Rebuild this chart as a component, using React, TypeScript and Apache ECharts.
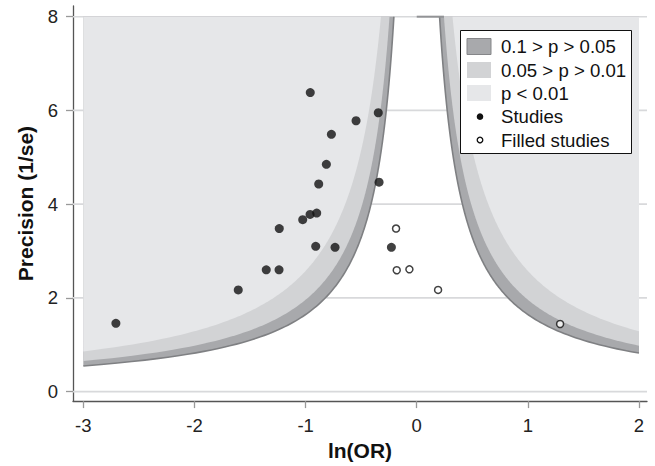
import React, { useEffect, useRef } from "react";
import * as echarts from "echarts";

// Observed studies (ln(OR), precision = 1/se)
const studyX = [-2.707, -1.606, -1.354, -1.239, -1.237, -1.026, -0.96, -0.9, -0.909, -0.735, -0.958, -0.768, -0.813, -0.882, -0.546, -0.346, -0.339, -0.228];
const studyY = [1.457, 2.17, 2.6, 2.6, 3.48, 3.67, 3.78, 3.81, 3.1, 3.08, 6.38, 5.49, 4.85, 4.43, 5.78, 5.95, 4.47, 3.08];
// Trim-and-fill imputed studies
const filledX = [-0.186, -0.18, -0.066, 0.192, 1.29];
const filledY = [3.48, 2.59, 2.61, 2.17, 1.443];
// Significance contours: z for p = 0.1, 0.05, 0.01
const contourZ = [1.645, 1.96, 2.576];
const bandColors = ["#a8a9ac", "#d2d3d5", "#e6e7e9"];
const xTicks = [-3, -2, -1, 0, 1, 2];
const yTicks = [0, 2, 4, 6, 8];
const legendLabels = ["0.1 > p > 0.05", "0.05 > p > 0.01", "p < 0.01", "Studies", "Filled studies"];

const X_LO = -3, X_HI = 2, Y_HI = 8;
const AX_X_MIN = -3.093, AX_X_MAX = 2.072, AX_Y_MIN = -0.202, AX_Y_MAX = 8.228;
const FONT = "'Liberation Sans', Arial, Helvetica, sans-serif";

function curve(z: number, side: number): number[][] {
  const edgeX = side < 0 ? X_LO : X_HI;
  const y0 = z / Math.abs(edgeX);
  const pts: number[][] = [];
  const N = 240;
  for (let i = 0; i <= N; i++) {
    const y = y0 + (Y_HI - y0) * (i / N);
    pts.push([side * z / y, y]);
  }
  return pts;
}

function region(z: number, side: number): number[][] {
  const edgeX = side < 0 ? X_LO : X_HI;
  return [...curve(z, side), [edgeX, Y_HI]];
}

export default function App() {
  const ref = useRef<HTMLDivElement>(null);
  useEffect(() => {
    if (!ref.current) return;
    const chart = echarts.init(ref.current, null, { renderer: "svg" });

    const fillSeries = contourZ.map((z, k) => ({
      type: "custom",
      coordinateSystem: "cartesian2d",
      z: 2 + k,
      silent: true,
      data: [[-1, 4], [1, 4]],
      renderItem: (params: any, api: any) => {
        const side = params.dataIndex === 0 ? -1 : 1;
        const pts = region(z, side).map((p) => api.coord(p));
        return { type: "polygon", shape: { points: pts }, style: { fill: bandColors[k] } };
      },
    }));

    const LX = 460, LY = 30;
    const rowY = [16.7, 40.3, 63.3, 86.7, 110];
    const legendGraphic: any[] = [
      { type: "rect", z: 100, shape: { x: LX + 0.5, y: LY + 0.5, width: 171, height: 123 }, style: { fill: "#ffffff", stroke: "#111", lineWidth: 1 } },
      { type: "rect", z: 101, shape: { x: LX + 7, y: LY + 8.5, width: 24, height: 16 }, style: { fill: bandColors[0], stroke: "#858689", lineWidth: 1 } },
      { type: "rect", z: 101, shape: { x: LX + 7, y: LY + 32, width: 24, height: 16 }, style: { fill: bandColors[1] } },
      { type: "rect", z: 101, shape: { x: LX + 7, y: LY + 55, width: 24, height: 16 }, style: { fill: bandColors[2] } },
      { type: "circle", z: 101, shape: { cx: LX + 20, cy: LY + rowY[3], r: 3.3 }, style: { fill: "#111" } },
      { type: "circle", z: 101, shape: { cx: LX + 20, cy: LY + rowY[4], r: 2.8 }, style: { fill: "#fff", stroke: "#111", lineWidth: 1.3 } },
      ...legendLabels.map((t, i) => ({
        type: "text",
        z: 101,
        x: LX + 41,
        y: LY + rowY[i],
        style: { text: t, fontSize: 18.6, fill: "#111", fontFamily: FONT, verticalAlign: "middle" },
      })),
    ];

    const option: any = {
      animation: false,
      backgroundColor: "#ffffff",
      grid: { left: 73, right: 8, top: 6, bottom: 64, containLabel: false },
      xAxis: {
        type: "value",
        min: AX_X_MIN,
        max: AX_X_MAX,
        axisLine: { show: true, onZero: false, lineStyle: { color: "#555", width: 1.3 } },
        axisTick: { show: true, length: 7, customValues: xTicks, lineStyle: { color: "#999", width: 1.3 } },
        axisLabel: { customValues: xTicks, fontSize: 18.5, color: "#222", margin: 15, fontFamily: FONT, formatter: (v: number) => String(v) },
        splitLine: { show: false },
        name: "ln(OR)",
        nameLocation: "middle",
        nameGap: 38,
        nameTextStyle: { fontSize: 21, fontWeight: "bold", color: "#111", fontFamily: FONT },
      },
      yAxis: {
        type: "value",
        min: AX_Y_MIN,
        max: AX_Y_MAX,
        axisLine: { show: true, onZero: false, lineStyle: { color: "#555", width: 1.3 } },
        axisTick: { show: true, length: 7, customValues: yTicks, lineStyle: { color: "#999", width: 1.3 } },
        axisLabel: { customValues: yTicks, fontSize: 18.5, color: "#222", margin: 15, fontFamily: FONT, formatter: (v: number) => String(v) },
        splitLine: { show: false },
        name: "Precision (1/se)",
        nameLocation: "middle",
        nameGap: 37,
        nameTextStyle: { fontSize: 21, fontWeight: "bold", color: "#111", fontFamily: FONT },
      },
      series: [
        {
          type: "custom",
          coordinateSystem: "cartesian2d",
          z: 1,
          silent: true,
          data: yTicks.map((v) => [0, v]),
          renderItem: (params: any, api: any) => {
            const v = api.value(1);
            const a = api.coord([AX_X_MIN, v]);
            const b = api.coord([AX_X_MAX, v]);
            return { type: "line", shape: { x1: a[0], y1: a[1], x2: b[0], y2: b[1] }, style: { stroke: "#d8d9db", lineWidth: 1.6 } };
          },
        },
        ...fillSeries,
        {
          type: "custom",
          coordinateSystem: "cartesian2d",
          z: 6,
          silent: true,
          data: [[-1, 4], [1, 4]],
          renderItem: (params: any, api: any) => {
            const side = params.dataIndex === 0 ? -1 : 1;
            const pts = curve(contourZ[0], side).map((p) => api.coord(p));
            const children: any[] = [
              { type: "polyline", shape: { points: pts }, style: { stroke: "#7f8083", lineWidth: 1.6, fill: null } },
            ];
            if (side > 0) {
              const a = api.coord([0, Y_HI]);
              const b = api.coord([contourZ[1] / Y_HI, Y_HI]);
              children.push({ type: "line", shape: { x1: a[0], y1: a[1], x2: b[0], y2: b[1] }, style: { stroke: "#929396", lineWidth: 2 } });
            }
            return { type: "group", children };
          },
        },
        {
          name: "Studies",
          type: "scatter",
          z: 8,
          symbol: "circle",
          symbolSize: 9,
          itemStyle: { color: "#111111" },
          data: studyX.map((x, i) => [x, studyY[i]]),
        },
        {
          name: "Filled studies",
          type: "scatter",
          z: 8,
          symbol: "circle",
          symbolSize: 7,
          itemStyle: { color: "#ffffff", borderColor: "#111", borderWidth: 1.5 },
          data: filledX.map((x, i) => [x, filledY[i]]),
        },
      ],
      graphic: { elements: legendGraphic },
    };
    chart.setOption(option);
    return () => chart.dispose();
  }, []);
  return <div ref={ref} style={{ position: "fixed", left: 0, top: 0, width: 655, height: 466, background: "#fff" }} />;
}
